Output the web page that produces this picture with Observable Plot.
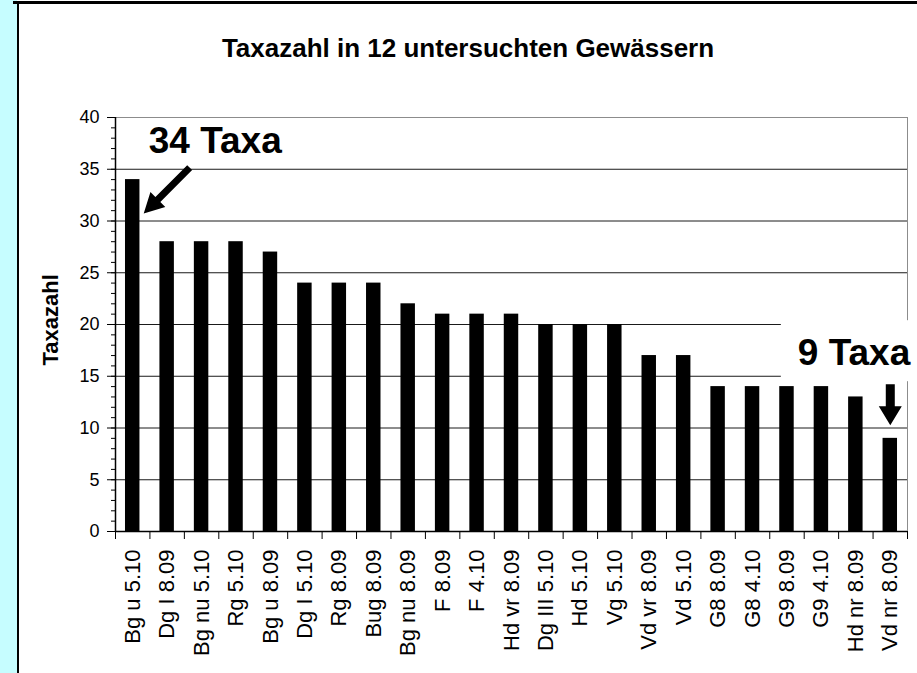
<!DOCTYPE html>
<html><head><meta charset="utf-8">
<script src="https://cdn.jsdelivr.net/npm/d3@7"></script>
<script src="https://cdn.jsdelivr.net/npm/@observablehq/plot@0.6"></script>
<style>
body{margin:0;background:#fff;}
#wrap{position:relative;width:917px;height:673px;overflow:hidden;background:#fff;}
#strip{position:absolute;left:0;top:0;width:17px;height:673px;background:#c6fdff;}
#vline{position:absolute;left:17px;top:1px;width:2px;height:672px;background:#000;}
#hline{position:absolute;left:13px;top:1px;width:904px;height:3px;background:#000;}
#title{position:absolute;left:19px;top:35px;width:898px;text-align:center;font:bold 26px "Liberation Sans",Arial,sans-serif;line-height:26px;color:#000;}
#chart{position:absolute;left:19px;top:4px;}
</style></head><body>
<div id="wrap"><div id="strip"></div><div id="chart"></div><div id="title"></div><div id="vline"></div><div id="hline"></div></div>
<script>
const title = "Taxazahl in 12 untersuchten Gewässern";
const yLabel = "Taxazahl";
const categories = ["Bg u 5.10","Dg I 8.09","Bg nu 5.10","Rg 5.10","Bg u 8.09","Dg I 5.10","Rg 8.09","Bug 8.09","Bg nu 8.09","F 8.09","F 4.10","Hd vr 8.09","Dg III 5.10","Hd 5.10","Vg 5.10","Vd vr 8.09","Vd 5.10","G8 8.09","G8 4.10","G9 8.09","G9 4.10","Hd nr 8.09","Vd nr 8.09"];
const values = [34,28,28,28,27,24,24,24,22,21,21,21,20,20,20,17,17,14,14,14,14,13,9];
const yTicks = [0,5,10,15,20,25,30,35,40];
const annotations = [{label:"34 Taxa", index:0},{label:"9 Taxa", index:22}];

document.getElementById("title").textContent = title;

const W = 898, H = 669, mL = 96, mR = 10, mT = 113, mB = 142;
const padIn = 0.58, padOut = 0.29;
const step = (W - mL - mR) / (categories.length - padIn + 2 * padOut);
const data = categories.map((c, i) => ({cat: c, val: values[i]}));
const font = "Liberation Sans, Arial, sans-serif";
const blank = () => "";

const arrowShape = (shaft, headW, headL) => ({
  draw(ctx, l) {
    const b = l - headL;
    ctx.moveTo(-shaft / 2, 0);
    ctx.lineTo(-shaft / 2, -b);
    ctx.lineTo(-headW / 2, -b);
    ctx.lineTo(0, -l);
    ctx.lineTo(headW / 2, -b);
    ctx.lineTo(shaft / 2, -b);
    ctx.lineTo(shaft / 2, 0);
    ctx.closePath();
  }
});
const ax = d => categories[d.index];
const ay = d => values[d.index];

const chart = Plot.plot({
  width: W, height: H,
  marginLeft: mL, marginRight: mR, marginTop: mT, marginBottom: mB,
  style: {background: "transparent", fontFamily: font, color: "#000", overflow: "visible"},
  x: {domain: categories, paddingInner: padIn, paddingOuter: padOut, round: false, axis: null, label: null},
  y: {domain: [0, 40], axis: null, label: null},
  marks: [
    Plot.frame({stroke: "#8c8c8c"}),
    Plot.gridY(yTicks.filter(t => t > 0 && t < 40), {stroke: "#1a1a1a", strokeOpacity: 1}),
    Plot.barY(data, {x: "cat", y: "val", fill: "#000"}),
    Plot.ruleY([0], {stroke: "#000", strokeWidth: 1.5}),
    Plot.ruleX([categories[0]], {dx: -step / 2, y1: 0, y2: 40, stroke: "#000", strokeWidth: 1.5}),
    Plot.axisY(d3.range(0, 41, 1), {tickSize: 4, tickFormat: blank, label: null}),
    Plot.axisY(yTicks, {tickSize: 8, tickPadding: 8, fontSize: 18, label: null}),
    Plot.axisX(categories, {tickSize: 8, tickFormat: blank, dx: -step / 2, label: null}),
    Plot.axisX([categories[categories.length - 1]], {tickSize: 8, tickFormat: blank, dx: step / 2, label: null}),
    Plot.axisX(categories, {tickSize: 0, tickPadding: 18, tickRotate: -90, fontSize: 22, label: null}),
    Plot.text([yLabel], {frameAnchor: "left", rotate: -90, textAnchor: "start", dx: -65, dy: 41, fontWeight: "bold", fontSize: 22}),
    Plot.text([annotations[0]], {x: ax, y: ay, text: "label", textAnchor: "start", dx: 16, dy: -38, fontSize: 37, fontWeight: "bold"}),
    Plot.text([annotations[1]], {x: ax, y: ay, text: "label", textAnchor: "end", dx: 20, dy: -85, fontSize: 37, fontWeight: "bold"}),
    Plot.vector([annotations[0]], {x: ax, y: ay, length: 65, rotate: 225, anchor: "end", shape: arrowShape(7, 21, 20), fill: "#000", stroke: "none", dx: 11, dy: 34}),
    Plot.vector([annotations[1]], {x: ax, y: ay, length: 41, rotate: 180, anchor: "end", shape: arrowShape(9, 23, 19), fill: "#000", stroke: "none", dx: 0, dy: -13})
  ]
});
document.getElementById("chart").appendChild(chart);

// white label box behind "9 Taxa" (as in the original text box)
const lab = [...chart.querySelectorAll("text")].find(e => e.textContent === annotations[1].label);
if (lab) {
  const sr = chart.getBoundingClientRect();
  const br = lab.getBoundingClientRect();
  let g = lab;
  while (g.parentNode && g.parentNode !== chart) g = g.parentNode;
  const rect = document.createElementNS("http://www.w3.org/2000/svg", "rect");
  const x0 = br.left - sr.left - 17, y0 = br.top - sr.top - 12;
  rect.setAttribute("x", x0);
  rect.setAttribute("y", y0);
  rect.setAttribute("width", W - x0);
  rect.setAttribute("height", br.height + 20);
  rect.setAttribute("fill", "#fff");
  chart.insertBefore(rect, g);
}
</script>
</body></html>
